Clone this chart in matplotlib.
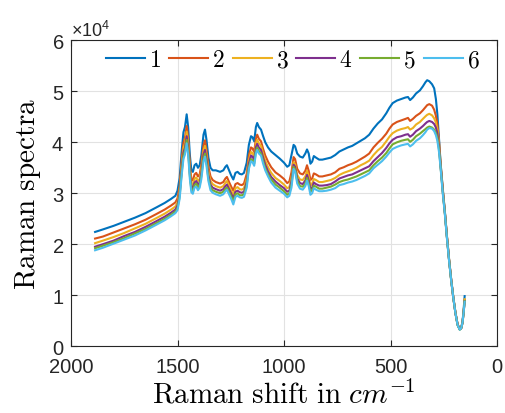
import numpy as np
import matplotlib
matplotlib.use("Agg")
import matplotlib.pyplot as plt
from matplotlib.ticker import ScalarFormatter

# Raman shift (cm^-1) and six spectra, intensities in units of 1e4
shift = [1887, 1850, 1800, 1750, 1700, 1650, 1600, 1560, 1530, 1510,
         1500, 1490, 1480, 1472, 1465, 1457, 1450, 1442, 1435, 1428,
         1420, 1412, 1404, 1396, 1388, 1378, 1371, 1364, 1355, 1345,
         1335, 1320, 1300, 1285, 1275, 1268, 1258, 1248, 1238, 1228,
         1218, 1208, 1198, 1188, 1175, 1165, 1155, 1148, 1140, 1132,
         1126, 1118, 1108, 1098, 1088, 1075, 1060, 1040, 1020, 1000,
         985, 975, 965, 955, 948, 938, 925, 912, 900, 892,
         884, 876, 868, 860, 850, 835, 820, 800, 780, 760,
         740, 720, 700, 680, 660, 640, 620, 600, 580, 560,
         540, 520, 505, 490, 470, 450, 430, 418, 408, 395,
         380, 362, 348, 336, 328, 318, 305, 295, 287, 280,
         272, 265, 255, 245, 235, 225, 215, 205, 195, 185,
         175, 168, 162, 157, 152]

spec1 = [2.24, 2.29, 2.36, 2.44, 2.52, 2.61, 2.72, 2.81, 2.89, 2.95,
         3.05, 3.30, 3.85, 4.20, 4.30, 4.55, 4.30, 3.75, 3.45, 3.42,
         3.55, 3.58, 3.50, 3.55, 3.75, 4.15, 4.25, 4.05, 3.70, 3.50,
         3.45, 3.45, 3.42, 3.45, 3.52, 3.55, 3.45, 3.35, 3.27, 3.40,
         3.42, 3.38, 3.37, 3.40, 3.60, 3.95, 4.12, 4.10, 4.02, 4.30,
         4.38, 4.30, 4.25, 4.12, 4.00, 3.90, 3.82, 3.75, 3.68, 3.60,
         3.52, 3.55, 3.75, 3.95, 3.92, 3.78, 3.72, 3.70, 3.78, 3.86,
         3.78, 3.58, 3.62, 3.73, 3.70, 3.66, 3.66, 3.68, 3.70, 3.75,
         3.82, 3.86, 3.90, 3.93, 3.98, 4.03, 4.08, 4.15, 4.27, 4.37,
         4.45, 4.57, 4.68, 4.77, 4.82, 4.85, 4.88, 4.89, 4.83, 4.88,
         4.96, 5.02, 5.10, 5.18, 5.22, 5.20, 5.14, 5.06, 4.85, 4.55,
         4.05, 3.60, 3.10, 2.65, 2.15, 1.70, 1.30, 0.95, 0.65, 0.42,
         0.33, 0.36, 0.48, 0.70, 0.98]

spec2 = [2.11, 2.15, 2.23, 2.31, 2.39, 2.48, 2.59, 2.68, 2.76, 2.82,
         2.90, 3.14, 3.66, 3.99, 4.09, 4.32, 4.09, 3.56, 3.28, 3.25,
         3.37, 3.40, 3.33, 3.37, 3.56, 3.94, 4.04, 3.85, 3.52, 3.33,
         3.26, 3.22, 3.19, 3.22, 3.29, 3.32, 3.22, 3.13, 3.05, 3.18,
         3.20, 3.17, 3.16, 3.19, 3.38, 3.74, 3.90, 3.88, 3.81, 4.07,
         4.15, 4.07, 4.02, 3.87, 3.74, 3.62, 3.51, 3.41, 3.35, 3.28,
         3.20, 3.23, 3.41, 3.71, 3.67, 3.48, 3.39, 3.37, 3.44, 3.55,
         3.44, 3.26, 3.29, 3.39, 3.37, 3.33, 3.33, 3.35, 3.37, 3.41,
         3.48, 3.51, 3.55, 3.58, 3.62, 3.67, 3.72, 3.78, 3.90, 3.99,
         4.07, 4.17, 4.27, 4.35, 4.40, 4.43, 4.46, 4.48, 4.42, 4.46,
         4.52, 4.57, 4.63, 4.69, 4.73, 4.75, 4.72, 4.64, 4.52, 4.36,
         4.00, 3.58, 3.09, 2.64, 2.15, 1.70, 1.30, 0.95, 0.65, 0.42,
         0.33, 0.35, 0.46, 0.66, 0.90]

spec3 = [2.02, 2.07, 2.14, 2.22, 2.31, 2.40, 2.51, 2.60, 2.68, 2.74,
         2.82, 3.05, 3.56, 3.89, 3.98, 4.21, 3.98, 3.47, 3.19, 3.16,
         3.28, 3.31, 3.24, 3.28, 3.47, 3.84, 3.93, 3.75, 3.42, 3.24,
         3.18, 3.14, 3.11, 3.14, 3.21, 3.24, 3.14, 3.05, 2.96, 3.10,
         3.12, 3.08, 3.07, 3.10, 3.29, 3.65, 3.81, 3.79, 3.72, 3.98,
         4.05, 3.98, 3.93, 3.77, 3.64, 3.51, 3.40, 3.30, 3.24, 3.17,
         3.10, 3.12, 3.30, 3.61, 3.57, 3.36, 3.27, 3.26, 3.33, 3.44,
         3.33, 3.15, 3.19, 3.28, 3.26, 3.22, 3.22, 3.24, 3.26, 3.30,
         3.36, 3.40, 3.43, 3.46, 3.50, 3.55, 3.59, 3.64, 3.75, 3.84,
         3.91, 4.02, 4.11, 4.18, 4.23, 4.26, 4.28, 4.30, 4.25, 4.28,
         4.35, 4.40, 4.46, 4.51, 4.54, 4.56, 4.53, 4.47, 4.39, 4.25,
         3.95, 3.56, 3.07, 2.63, 2.14, 1.69, 1.29, 0.95, 0.65, 0.42,
         0.33, 0.35, 0.46, 0.66, 0.92]

spec4 = [1.95, 2.00, 2.07, 2.16, 2.24, 2.34, 2.45, 2.54, 2.62, 2.68,
         2.76, 2.99, 3.48, 3.80, 3.89, 4.12, 3.89, 3.39, 3.12, 3.10,
         3.21, 3.24, 3.17, 3.21, 3.39, 3.76, 3.85, 3.67, 3.35, 3.17,
         3.11, 3.08, 3.05, 3.08, 3.14, 3.17, 3.08, 2.99, 2.89, 3.03,
         3.05, 3.02, 3.01, 3.03, 3.22, 3.58, 3.74, 3.72, 3.65, 3.90,
         3.97, 3.90, 3.85, 3.70, 3.56, 3.43, 3.32, 3.23, 3.16, 3.10,
         3.03, 3.05, 3.23, 3.56, 3.52, 3.29, 3.20, 3.18, 3.25, 3.36,
         3.25, 3.08, 3.11, 3.21, 3.18, 3.15, 3.15, 3.16, 3.18, 3.23,
         3.29, 3.32, 3.35, 3.37, 3.41, 3.45, 3.49, 3.53, 3.63, 3.71,
         3.79, 3.89, 3.98, 4.05, 4.10, 4.12, 4.15, 4.16, 4.11, 4.15,
         4.22, 4.27, 4.32, 4.37, 4.40, 4.42, 4.40, 4.36, 4.29, 4.17,
         3.90, 3.54, 3.05, 2.62, 2.13, 1.68, 1.29, 0.94, 0.64, 0.42,
         0.33, 0.35, 0.46, 0.65, 0.88]

spec5 = [1.92, 1.97, 2.04, 2.12, 2.21, 2.30, 2.41, 2.50, 2.58, 2.64,
         2.71, 2.94, 3.43, 3.74, 3.83, 4.05, 3.83, 3.34, 3.07, 3.04,
         3.16, 3.19, 3.12, 3.16, 3.34, 3.69, 3.78, 3.60, 3.29, 3.12,
         3.06, 3.03, 3.00, 3.03, 3.09, 3.11, 3.03, 2.94, 2.84, 2.98,
         3.00, 2.96, 2.96, 2.98, 3.17, 3.52, 3.67, 3.65, 3.58, 3.83,
         3.90, 3.83, 3.78, 3.63, 3.49, 3.37, 3.27, 3.17, 3.11, 3.04,
         2.97, 3.00, 3.17, 3.52, 3.47, 3.25, 3.14, 3.13, 3.19, 3.30,
         3.19, 3.03, 3.06, 3.15, 3.13, 3.09, 3.09, 3.11, 3.13, 3.17,
         3.22, 3.25, 3.27, 3.30, 3.33, 3.37, 3.41, 3.45, 3.55, 3.63,
         3.70, 3.79, 3.88, 3.96, 4.00, 4.03, 4.05, 4.06, 4.01, 4.05,
         4.12, 4.17, 4.22, 4.26, 4.29, 4.31, 4.29, 4.25, 4.19, 4.09,
         3.85, 3.52, 3.03, 2.61, 2.12, 1.68, 1.28, 0.94, 0.64, 0.41,
         0.32, 0.35, 0.46, 0.65, 0.88]

spec6 = [1.88, 1.93, 2.01, 2.09, 2.17, 2.27, 2.38, 2.47, 2.55, 2.61,
         2.67, 2.89, 3.37, 3.68, 3.76, 3.98, 3.76, 3.28, 3.02, 2.99,
         3.11, 3.13, 3.06, 3.11, 3.28, 3.63, 3.72, 3.54, 3.24, 3.06,
         3.01, 2.98, 2.95, 2.98, 3.04, 3.07, 2.98, 2.89, 2.78, 2.93,
         2.95, 2.92, 2.91, 2.93, 3.11, 3.48, 3.63, 3.61, 3.54, 3.78,
         3.85, 3.78, 3.74, 3.58, 3.45, 3.33, 3.21, 3.11, 3.05, 2.99,
         2.92, 2.95, 3.11, 3.48, 3.43, 3.19, 3.09, 3.07, 3.14, 3.25,
         3.14, 2.97, 3.00, 3.10, 3.07, 3.04, 3.04, 3.05, 3.07, 3.10,
         3.16, 3.18, 3.21, 3.23, 3.26, 3.30, 3.34, 3.39, 3.49, 3.56,
         3.63, 3.72, 3.80, 3.87, 3.91, 3.94, 3.96, 3.97, 3.92, 3.96,
         4.03, 4.08, 4.14, 4.20, 4.25, 4.28, 4.27, 4.22, 4.14, 4.03,
         3.80, 3.50, 3.01, 2.60, 2.11, 1.67, 1.28, 0.94, 0.64, 0.41,
         0.32, 0.35, 0.46, 0.65, 0.87]

labels = ["1", "2", "3", "4", "5", "6"]
colors = ["#0072BD", "#D95319", "#EDB120", "#7E2F8E", "#77AC30", "#4DBEEE"]

plt.rcParams["font.family"] = ["Liberation Sans", "DejaVu Sans"]
plt.rcParams["mathtext.fontset"] = "custom"
plt.rcParams["mathtext.rm"] = "Liberation Sans"
plt.rcParams["mathtext.it"] = "Liberation Sans:italic"
plt.rcParams["mathtext.bf"] = "Liberation Sans:bold"

fig = plt.figure(figsize=(5.05, 4.14), dpi=100)
ax = fig.add_axes([0.1406, 0.1618, 0.8436, 0.7380])

x = np.array(shift)
for s, lab, c in zip([spec1, spec2, spec3, spec4, spec5, spec6], labels, colors):
    ax.plot(x, np.array(s) * 1e4, color=c, lw=1.5, label="$" + lab + "$")

ax.set_xlim(2000, 0)
ax.set_ylim(0, 6e4)
ax.set_xticks([2000, 1500, 1000, 500, 0])
ax.set_yticks(np.arange(0, 7) * 1e4)

fmt = ScalarFormatter(useMathText=True)
fmt.set_powerlimits((4, 4))
ax.yaxis.set_major_formatter(fmt)
ax.yaxis.get_offset_text().set_fontsize(13)
ax.yaxis.get_offset_text().set_color("#262626")

ax.grid(True, color="#e2e2e2", lw=0.8)
ax.set_axisbelow(True)
for sp in ax.spines.values():
    sp.set_color("#262626")
    sp.set_linewidth(0.8)
ax.tick_params(direction="in", top=True, right=True, length=4, width=0.8,
               colors="#262626", labelsize=14.5)
ax.tick_params(axis="x", pad=8)
ax.tick_params(axis="y", pad=5)

ax.set_xlabel(r"$\mathrm{Raman\ shift\ in}\ cm^{-1}$", fontsize=21,
              math_fontfamily="cm", labelpad=2)
ax.set_ylabel(r"$\mathrm{Raman\ spectra}$", fontsize=21,
              math_fontfamily="cm", labelpad=6)

leg = ax.legend(loc="center", bbox_to_anchor=(0.521, 0.935), ncol=6,
                frameon=False, fontsize=17, handlelength=1.65,
                handletextpad=0.17, columnspacing=0.34, borderpad=0.1)
for t in leg.get_texts():
    t.set_math_fontfamily("cm")

fig.savefig("out.png", dpi=100)
